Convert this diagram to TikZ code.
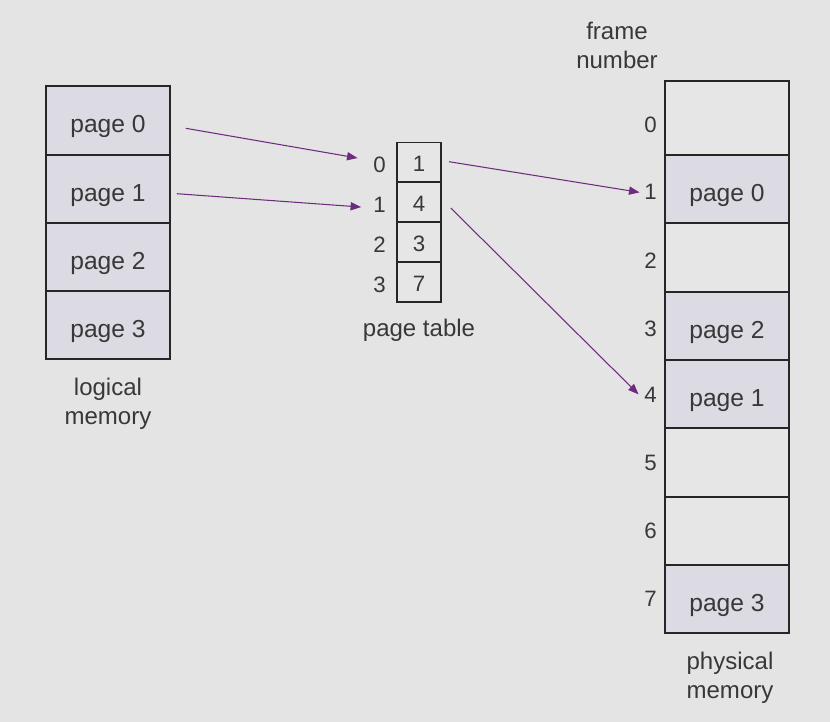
\documentclass[tikz,border=0pt]{standalone}
\usepackage{fontspec}
\setmainfont{Liberation Sans}
\usetikzlibrary{arrows.meta,calc}
\definecolor{bg}{HTML}{E4E4E4}
\definecolor{pagefill}{HTML}{DCDAE2}
\definecolor{emptyfill}{HTML}{E6E6E6}
\definecolor{arrowc}{HTML}{6E2C7E}
\definecolor{txt}{HTML}{383838}
\begin{document}
\begin{tikzpicture}[x=0.03cm,y=-0.03cm,
  every node/.style={text=txt},
  cell/.style={draw=black!85, line width=1.3pt, minimum width=3.72cm, inner sep=0pt,
    font=\fontsize{21}{24}\selectfont, text height=21pt, text depth=0pt},
  pg/.style={cell, fill=pagefill},
  emp/.style={cell, fill=emptyfill},
  ptcell/.style={draw=black!85, line width=1.3pt, fill=emptyfill, minimum width=1.32cm, minimum height=1.2cm, inner sep=0pt,
    font=\fontsize{19}{22}\selectfont, text height=16pt, text depth=0pt},
  num/.style={inner sep=0pt, anchor=base east, font=\fontsize{19}{22}\selectfont},
  lbl/.style={inner sep=0pt, align=center, font=\fontsize{20.5}{24.5}\selectfont},
  arr/.style={draw=arrowc, line width=0.9pt, -{Triangle[length=9pt,width=7pt]}}
]
\fill[bg] (0,0) rectangle (830,722);
\useasboundingbox (0,0) rectangle (830,722);

% logical memory
\node[pg, minimum height=2.07cm] (l0) at (108,120.5) {page 0};
\node[pg, minimum height=2.04cm] (l1) at (108,189) {page 1};
\node[pg, minimum height=2.04cm] (l2) at (108,257) {page 2};
\node[pg, minimum height=2.04cm] (l3) at (108,325) {page 3};
\node[lbl] (lm) at (108,403.5) {logical\\memory};

% page table
\node[ptcell] (p0) at (419,162.5) {1};
\node[ptcell] (p1) at (419,202) {4};
\node[ptcell] (p2) at (419,242) {3};
\node[ptcell] (p3) at (419,282) {7};
\node[num] (i0) at (386,172) {0};
\node[num] (i1) at (386,212) {1};
\node[num] (i2) at (386,252) {2};
\node[num] (i3) at (386,292) {3};
\node[lbl] (ptl) at (419,330) {page table};

% physical memory
\node[emp, minimum height=2.22cm] (f0) at (727,118) {};
\node[pg, minimum height=2.04cm] (f1) at (727,189) {page 0};
\node[emp, minimum height=2.07cm] (f2) at (727,257.5) {};
\node[pg, minimum height=2.04cm] (f3) at (727,326) {page 2};
\node[pg, minimum height=2.04cm] (f4) at (727,394) {page 1};
\node[emp, minimum height=2.07cm] (f5) at (727,462.5) {};
\node[emp, minimum height=2.04cm] (f6) at (727,531) {};
\node[pg, minimum height=2.04cm] (f7) at (727,599) {page 3};
\node[num] (n0) at (657,132.5) {0};
\node[num] (n1) at (657,199) {1};
\node[num] (n2) at (657,268) {2};
\node[num] (n3) at (657,336) {3};
\node[num] (n4) at (657,402) {4};
\node[num] (n5) at (657,470.5) {5};
\node[num] (n6) at (657,538.5) {6};
\node[num] (n7) at (657,606.5) {7};
\node[lbl] (fn) at (617,45.5) {frame\\number};
\node[lbl] (pm) at (730,677.5) {physical\\memory};

% arrows
\draw[arr] ($(l0.east)+(15,7.8)$) -- ($(i0.west)+(-15.6,-6.3)$);
\draw[arr] ($(l1.east)+(6,4.7)$) -- ($(i1.west)+(-12,2.7)$);
\draw[arr] ($(p0.east)+(7.3,-0.8)$) -- ($(n1.west)+(-4.6,1)$);
\draw[arr] ($(p1.east)+(9,6)$) -- ($(n4.west)+(-5.6,0)$);
\end{tikzpicture}
\end{document}
